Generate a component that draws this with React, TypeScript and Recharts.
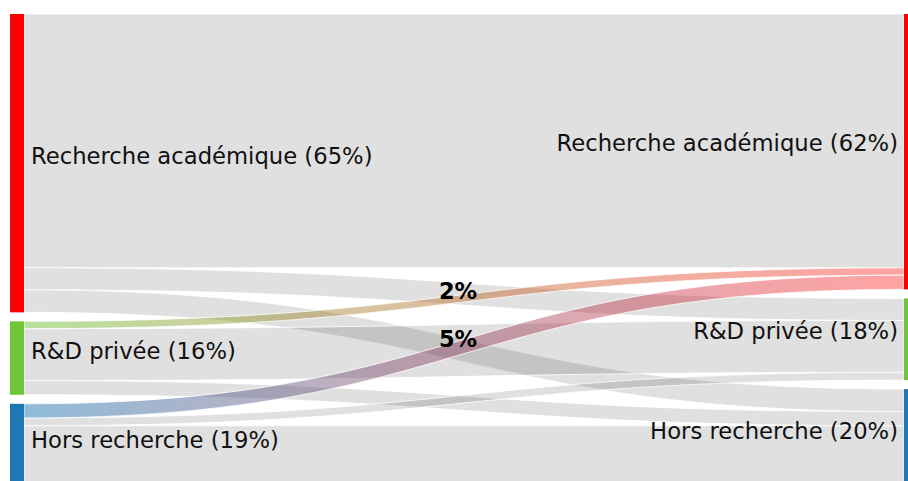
import { Sankey } from 'recharts';

const nodeNames = [
  'Recherche académique (65%)',
  'R&D privée (16%)',
  'Hors recherche (19%)',
  'Recherche académique (62%)',
  'R&D privée (18%)',
  'Hors recherche (20%)',
];
const nodeColors = ['#ff0000', '#6fc43a', '#1f77b4', '#ff0000', '#6fc43a', '#1f77b4'];

const linkSources = [0, 0, 0, 1, 1, 2, 2, 1, 2];
const linkTargets = [3, 4, 5, 4, 5, 4, 5, 3, 3];
const linkValues = [55.3, 4.8, 4.9, 11.3, 3.1, 1.7, 14.2, 1.6, 3.1];
const linkLabels = ['', '', '', '', '', '', '', '2%', '5%'];

const data = {
  nodes: nodeNames.map((name, i) => ({ name, color: nodeColors[i] })),
  links: linkSources.map((source, i) => ({
    source,
    target: linkTargets[i],
    value: linkValues[i],
    label: linkLabels[i],
    colored: linkLabels[i] !== '',
  })),
};

const FONT = '"DejaVu Sans", Verdana, sans-serif';

const SankeyNode = ({ x, y, width, height, payload }: any) => {
  const left = payload.depth === 0;
  return (
    <g>
      <rect x={x} y={y} width={width} height={height} fill={payload.color} />
      <text
        x={left ? x + width + 7 : x - 6}
        y={y + height / 2 - (left ? 7 : 8.5)}
        dy="0.35em"
        textAnchor={left ? 'start' : 'end'}
        fontFamily={FONT}
        fontSize={22.7}
        fill="#111"
      >
        {payload.name}
      </text>
    </g>
  );
};

const SankeyLink = (props: any) => {
  const { sourceX, targetX, sourceY, targetY, sourceControlX, targetControlX, linkWidth, index, payload } = props;
  const h = linkWidth / 2;
  const d =
    `M${sourceX},${sourceY - h} C${sourceControlX},${sourceY - h} ${targetControlX},${targetY - h} ${targetX},${targetY - h}` +
    ` L${targetX},${targetY + h} C${targetControlX},${targetY + h} ${sourceControlX},${sourceY + h} ${sourceX},${sourceY + h} Z`;
  const id = `lg-${index}`;
  const colored = payload.colored;
  return (
    <g>
      {colored && (
        <defs>
          <linearGradient id={id} x1="0" x2="1" y1="0" y2="0">
            <stop offset="0%" stopColor={payload.source.color} stopOpacity={0.5} />
            <stop offset="100%" stopColor={payload.target.color} stopOpacity={0.36} />
          </linearGradient>
        </defs>
      )}
      <path
        d={d}
        fill={colored ? `url(#${id})` : 'rgba(0,0,0,0.12)'}
        stroke="#fff"
        strokeWidth={0.8}
      />
      {payload.label && (
        <text
          x={(sourceX + targetX) / 2 - 6}
          y={(sourceY + targetY) / 2 - 7}
          dy="0.35em"
          textAnchor="middle"
          fontFamily={FONT}
          fontWeight="bold"
          fontSize={22.5}
          fill="#000"
        >
          {payload.label}
        </text>
      )}
    </g>
  );
};

export default function App() {
  return (
    <div
      style={{
        position: 'fixed',
        left: 0,
        top: 0,
        width: 908,
        height: 481,
        overflow: 'hidden',
        background: '#fff',
      }}
    >
      <Sankey
        width={918}
        height={491}
        data={data}
        node={<SankeyNode />}
        link={<SankeyLink />}
        nodeWidth={14}
        nodePadding={9}
        iterations={0}
        sort={false}
        margin={{ top: 14, right: 0, bottom: 0, left: 10 }}
      />
    </div>
  );
}
